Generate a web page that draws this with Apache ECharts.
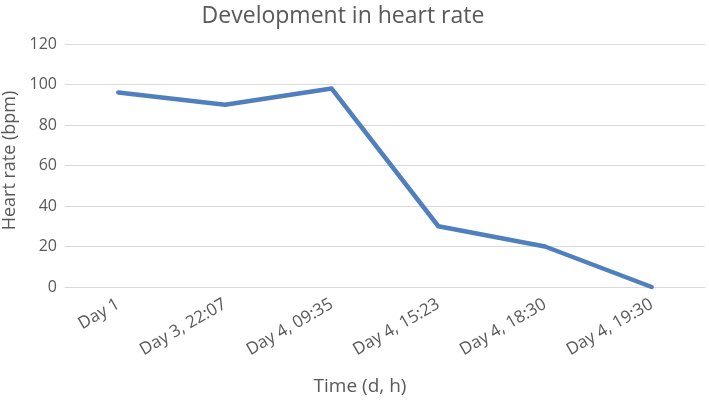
<!DOCTYPE html>
<html><head><meta charset="utf-8">
<script src="https://cdn.jsdelivr.net/npm/echarts@6/dist/echarts.min.js"></script>
<style>html,body{margin:0;padding:0;background:#fff}#c{width:709px;height:400px}</style>
</head><body><div id="c"></div>
<script>
const categories = ["Day 1", "Day 3, 22:07", "Day 4, 09:35", "Day 4, 15:23", "Day 4, 18:30", "Day 4, 19:30"];
const heartRate = [96, 90, 98, 30, 20, 0];
const yTicks = {min: 0, max: 120, interval: 20};
const font = "Open Sans";
const chart = echarts.init(document.getElementById('c'));
chart.setOption({
  animation: false,
  title: {text: "Development in heart rate", left: 338, textAlign: 'center', top: 0,
    textStyle: {fontFamily: font, fontSize: 23, fontWeight: 'normal', color: '#595959'}},
  grid: {left: 65, right: 4, top: 44, bottom: 113, outerBoundsMode: 'none'},
  xAxis: {type: 'category', data: categories, boundaryGap: true,
    name: "Time (d, h)", nameLocation: 'middle', nameGap: 90,
    nameTextStyle: {fontFamily: font, fontSize: 19, color: '#595959', padding: [0, 50, 0, 0]},
    axisLine: {show: true, lineStyle: {color: '#D9D9D9'}}, axisTick: {show: false},
    axisLabel: {rotate: 30, fontFamily: font, fontSize: 17, color: '#595959', margin: 16, interval: 0}},
  yAxis: {type: 'value', min: yTicks.min, max: yTicks.max, interval: yTicks.interval,
    name: "Heart rate (bpm)", nameLocation: 'middle', nameGap: 45,
    nameTextStyle: {fontFamily: font, fontSize: 18, color: '#595959', padding: [0, 0, 0, 10]},
    axisLine: {show: false}, axisTick: {show: false},
    axisLabel: {fontFamily: font, fontSize: 16, color: '#595959', margin: 8},
    splitLine: {lineStyle: {color: '#D9D9D9', width: 1}}},
  series: [{type: 'line', data: heartRate, symbol: 'none',
    lineStyle: {color: '#4F7FBD', width: 4.5, cap: 'round', join: 'round'}}]
});
</script></body></html>
